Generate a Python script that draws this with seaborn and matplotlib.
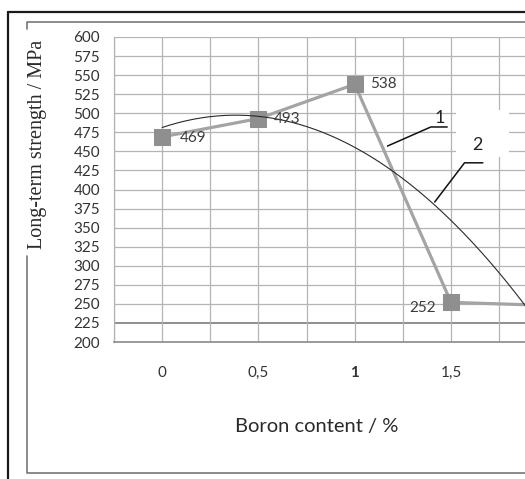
import numpy as np
import matplotlib
matplotlib.use("Agg")
import matplotlib.pyplot as plt
from matplotlib.lines import Line2D
from matplotlib.patches import Rectangle
import seaborn as sns

# data
boron = ["0", "0,5", "1", "1,5", "2"]
strength = [469, 493, 538, 252, 248]
y_ticks = list(range(200, 601, 25))

W, H = 525, 479

sns.set_style("white")
plt.rcParams["font.family"] = ["Lato", "DejaVu Sans"]

fig = plt.figure(figsize=(W / 100, H / 100), dpi=100)

# axes placed in pixels: left edge at 114, category width ~96.3 px
cat_w = 96.3
left_px, bottom_px, top_px = 114, 342, 37
ax = fig.add_axes([left_px / W, 1 - bottom_px / H, (W - left_px) / W, (bottom_px - top_px) / H])

pos = np.arange(len(boron))

grid_c = "#b4b4b4"
for yv in y_ticks:
    ax.axhline(yv, color="#7a7a7a" if yv == 225 else grid_c, lw=1.2 if yv == 225 else 0.9, zorder=0)
for xv in np.arange(-0.5, len(boron), 0.5):
    ax.axvline(xv, color=grid_c, lw=0.9, zorder=0)

# series 1: measured values
sns.lineplot(x=pos, y=strength, ax=ax, color="#a4a4a4", lw=2.3, marker="s",
             markersize=11, markerfacecolor="#8f8f8f", markeredgecolor="#8f8f8f", zorder=3)

# series 2: quadratic trend of the same data
coef = np.polyfit(pos, strength, 2)
xs = np.linspace(0, len(boron) - 1, 200)
sns.lineplot(x=xs, y=np.polyval(coef, xs), ax=ax, color="#2a2a2a", lw=0.8, zorder=4)

# point labels
label_offsets = [(13, -1, "left"), (11, 0, "left"), (11, 0, "left"), (-11, -4, "right"), (11, 0, "left")]
for x, v, (dx, dy, ha) in zip(pos, strength, label_offsets):
    ax.annotate(str(v), (x, v), xytext=(dx, dy), textcoords="offset points",
                ha=ha, va="center", fontsize=11, color="#3c3c3c", zorder=5,
                annotation_clip=True)

# curve markers "1" and "2" with leader lines
ax.add_patch(Rectangle((3.05, 442.6), 0.55, 61.7, facecolor="white", edgecolor="none", zorder=1))
ax.text(2.88, 494, "1", fontsize=13, ha="center", va="center", color="#222222", zorder=6)
ax.plot([2.96, 2.79, 2.34], [482, 482, 457], color="#111111", lw=1.1, zorder=6)
ax.text(3.27, 458, "2", fontsize=13, ha="center", va="center", color="#222222", zorder=6)
ax.plot([3.33, 3.14, 2.83], [435, 435, 383.6], color="#111111", lw=1.1, zorder=6)

ax.set_yticks(y_ticks)
ax.set_yticklabels([str(v) for v in y_ticks], fontsize=11, color="#333333")
ax.tick_params(axis="y", length=3, width=0.9, color=grid_c, pad=7)

ax.set_xticks(np.arange(-0.5, len(boron), 1.0))
ax.set_xticklabels([])
ax.set_xticks(pos, minor=True)
ax.set_xticklabels(boron, minor=True, fontsize=11, color="#333333")
for lab in ax.get_xticklabels(minor=True):
    if lab.get_text() == "1":
        lab.set_fontweight("bold")
ax.tick_params(axis="x", which="major", length=6, width=1.2, color="#8a8a8a", direction="out")
ax.tick_params(axis="x", which="minor", length=0, pad=17)

# limits after the ticks so the view is not widened
ax.set_xlim(-0.5, (W - left_px) / cat_w - 0.5)
ax.set_ylim(200, 600)

ax.set_xlabel("Boron content / %", fontsize=14.5, color="#2a2a2a")
ax.xaxis.set_label_coords((317 - left_px) / (W - left_px), -(418 - bottom_px) / (bottom_px - top_px))

for side in ["top", "right"]:
    ax.spines[side].set_visible(False)
ax.spines["left"].set_color(grid_c)
ax.spines["left"].set_linewidth(0.9)
ax.spines["bottom"].set_color("#8a8a8a")
ax.spines["bottom"].set_linewidth(1.2)

fig.text(38 / W, 1 - 144 / H, "Long-term strength / MPa", rotation=90, ha="center", va="center",
         fontsize=14.5, family=["Liberation Serif", "DejaVu Serif"], color="#2a2a2a")


def fline(xp, yp, **kw):
    fig.add_artist(Line2D([x / W for x in xp], [1 - y / H for y in yp], transform=fig.transFigure, **kw))


# outer black frame and inner grey chart border
fline([8, W], [12, 12], color="#1a1a1a", lw=1.6)
fline([8, 8], [12, H], color="#1a1a1a", lw=1.6)
fline([W, 27, 27], [22, 22, 29], color="#777777", lw=1.2)
fline([27, 27, W], [256, 473, 473], color="#777777", lw=1.2)

fig.savefig("out.png", dpi=100, facecolor="white")
